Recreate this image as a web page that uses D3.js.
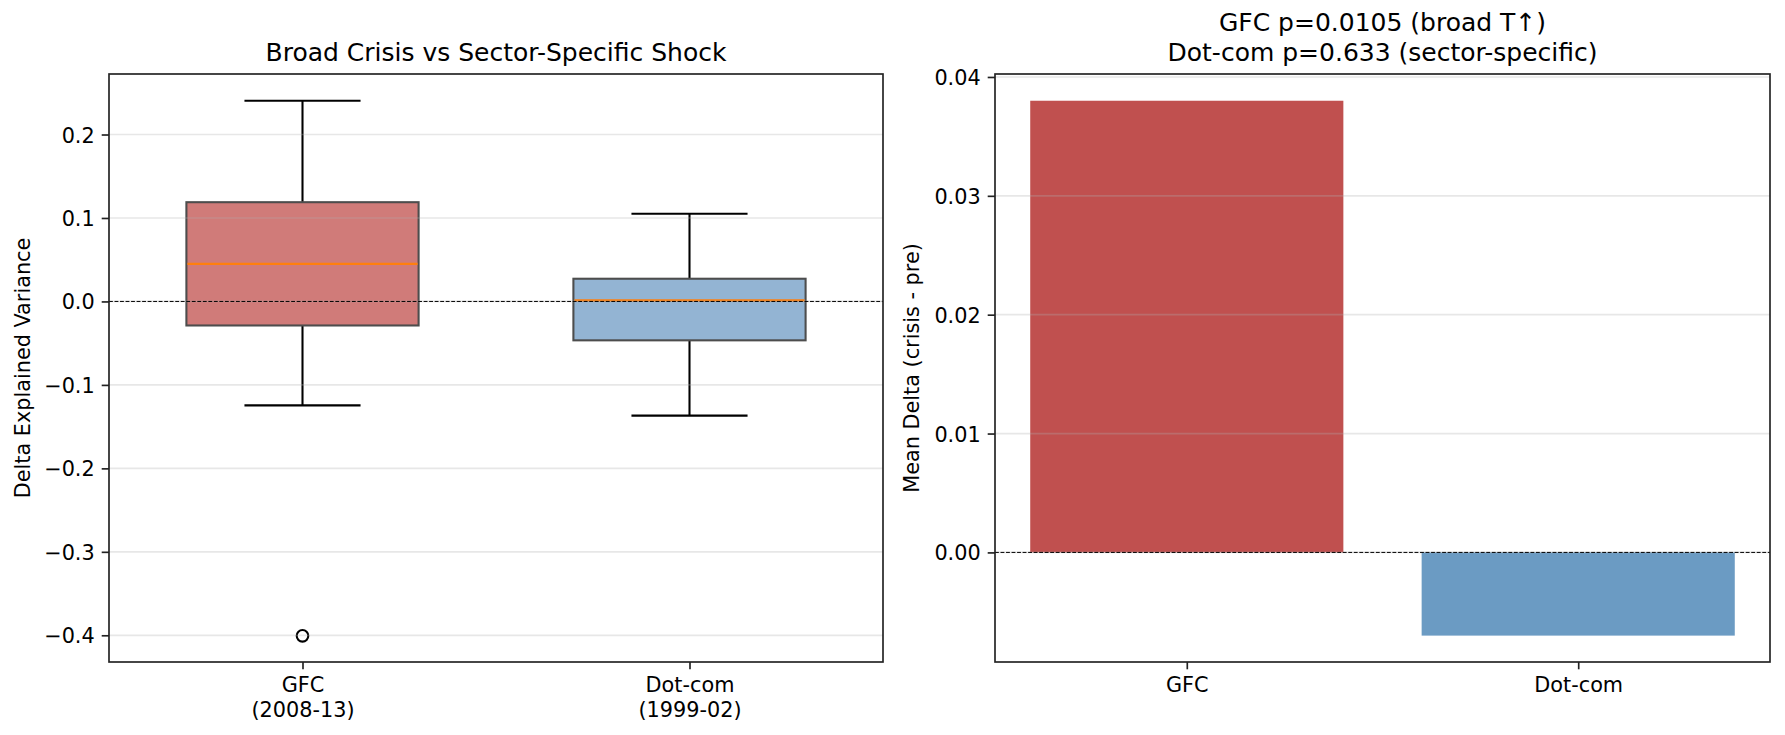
<!DOCTYPE html>
<html>
<head>
    <meta charset="utf-8">
    <script src="https://d3js.org/d3.v7.min.js"></script>
    <style>
        body { margin: 0; background: #fff; }
        svg { display: block; }
        svg text { font-family: 'DejaVu Sans', sans-serif; }
        .tick text { font-size: 20.8px; fill: #000; }
        .ttl { font-size: 25px; fill: #000; text-anchor: middle; }
        .ylab { font-size: 20.8px; fill: #000; text-anchor: middle; }
    </style>
</head>
<body>
<div id="chart"></div>
<script>
    // box plot stats per crisis
    const boxCats = ["GFC\n(2008-13)", "Dot-com\n(1999-02)"];
    const whiskLo = [-0.1245, -0.1368];
    const q1 = [-0.0288, -0.0466];
    const median = [0.045, 0.0013];
    const q3 = [0.1189, 0.0272];
    const whiskHi = [0.2405, 0.105];
    const outliers = [[-0.4006], []];
    const boxFill = ["#d07b79", "#93b4d3"];

    // mean delta bars
    const barCats = ["GFC", "Dot-com"];
    const barVals = [0.0380, -0.0070];
    const barFill = ["#c0504f", "#6b9bc3"];

    const leftTicks = [-0.4, -0.3, -0.2, -0.1, 0.0, 0.1, 0.2];
    const rightTicks = [0.00, 0.01, 0.02, 0.03, 0.04];

    const W = 1785, H = 735;
    const yTop = 74, yBot = 662;
    const L = { x0: 109, x1: 883 }, R = { x0: 995, x1: 1770 };
    const tickLen = 7.3, lw = 1.67;

    const svg = d3.select("#chart").append("svg")
        .attr("width", W).attr("height", H);

    function frame(g, x0, x1) {
        g.append("rect")
            .attr("x", x0).attr("y", yTop)
            .attr("width", x1 - x0).attr("height", yBot - yTop)
            .attr("fill", "none").attr("stroke", "#222").attr("stroke-width", lw);
    }

    function yAxis(g, y, x0, ticks, fmt) {
        const ax = g.append("g").attr("transform", `translate(${x0},0)`)
            .call(d3.axisLeft(y).tickValues(ticks).tickFormat(fmt)
                .tickSize(tickLen).tickPadding(7));
        ax.attr("font-family", null).attr("font-size", null);
        ax.select(".domain").remove();
        ax.selectAll(".tick line").attr("stroke", "#222").attr("stroke-width", lw);
        ax.selectAll(".tick text").attr("dy", "0.36em");
    }

    function xAxis(g, x, cats, positions) {
        const ax = g.append("g").attr("transform", `translate(0,${yBot})`)
            .call(d3.axisBottom(x).tickValues(positions).tickFormat("")
                .tickSize(tickLen));
        ax.attr("font-family", null).attr("font-size", null);
        ax.select(".domain").remove();
        ax.selectAll(".tick line").attr("stroke", "#222").attr("stroke-width", lw);
        ax.selectAll(".tick").each(function (d, i) {
            const lines = cats[i].split("\n");
            const t = d3.select(this).append("text")
                .attr("text-anchor", "middle").attr("fill", "#000")
                .style("font-size", "20.8px");
            lines.forEach((s, k) => {
                t.append("tspan").attr("x", 0).attr("y", 30 + k * 25).text(s);
            });
        });
    }

    function grid(g, y, ticks, x0, x1) {
        g.append("g").selectAll("line").data(ticks).join("line")
            .attr("x1", x0).attr("x2", x1)
            .attr("y1", d => y(d)).attr("y2", d => y(d))
            .attr("stroke", "#b0b0b0").attr("stroke-opacity", 0.3)
            .attr("stroke-width", lw);
    }

    function zeroLine(g, y, x0, x1) {
        g.append("line")
            .attr("x1", x0).attr("x2", x1)
            .attr("y1", y(0)).attr("y2", y(0))
            .attr("stroke", "#000").attr("stroke-width", 1)
            .attr("stroke-dasharray", "3.85,1.67");
    }

    // ---- left: box plot ----
    const gl = svg.append("g");
    const xl = d3.scaleLinear().domain([0.5, 2.5]).range([L.x0, L.x1]);
    const yl = d3.scaleLinear().domain([-0.432, 0.2725]).range([yBot, yTop]);
    const pos = boxCats.map((d, i) => i + 1);
    const bw = 0.6, cw = 0.3;

    pos.forEach((p, i) => {
        const g = gl.append("g");
        // whiskers
        g.append("line").attr("x1", xl(p)).attr("x2", xl(p))
            .attr("y1", yl(q1[i])).attr("y2", yl(whiskLo[i]));
        g.append("line").attr("x1", xl(p)).attr("x2", xl(p))
            .attr("y1", yl(q3[i])).attr("y2", yl(whiskHi[i]));
        [whiskLo[i], whiskHi[i]].forEach(v => {
            g.append("line").attr("x1", xl(p - cw / 2)).attr("x2", xl(p + cw / 2))
                .attr("y1", yl(v)).attr("y2", yl(v));
        });
        g.selectAll("line").attr("stroke", "#000").attr("stroke-width", 2.08);
        // box
        g.append("rect")
            .attr("x", xl(p - bw / 2)).attr("y", yl(q3[i]))
            .attr("width", xl(p + bw / 2) - xl(p - bw / 2))
            .attr("height", yl(q1[i]) - yl(q3[i]))
            .attr("fill", boxFill[i])
            .attr("stroke", "#4d4d4d").attr("stroke-width", 2.08);
        g.append("line")
            .attr("x1", xl(p - bw / 2) + 1).attr("x2", xl(p + bw / 2) - 1)
            .attr("y1", yl(median[i])).attr("y2", yl(median[i]))
            .attr("stroke", "#ff7f0e").attr("stroke-width", 2.08);
        g.selectAll("circle.out").data(outliers[i]).join("circle")
            .attr("class", "out")
            .attr("cx", xl(p)).attr("cy", d => yl(d)).attr("r", 5.8)
            .attr("fill", "none").attr("stroke", "#000").attr("stroke-width", 2.08);
    });
    grid(gl, yl, leftTicks, L.x0, L.x1);
    zeroLine(gl, yl, L.x0, L.x1);
    frame(gl, L.x0, L.x1);
    yAxis(gl, yl, L.x0, leftTicks, d3.format(".1f"));
    xAxis(gl, xl, boxCats, pos);

    gl.append("text").attr("class", "ttl")
        .attr("x", (L.x0 + L.x1) / 2).attr("y", 61)
        .text("Broad Crisis vs Sector-Specific Shock");
    gl.append("text").attr("class", "ylab")
        .attr("transform", `translate(30,${(yTop + yBot) / 2}) rotate(-90)`)
        .text("Delta Explained Variance");

    // ---- right: mean delta bars ----
    const gr = svg.append("g");
    const xr = d3.scaleLinear().domain([-0.49, 1.49]).range([R.x0, R.x1]);
    const yr = d3.scaleLinear().domain([-0.00922, 0.04025]).range([yBot, yTop]);

    gr.append("g").selectAll("rect").data(barVals).join("rect")
        .attr("x", (d, i) => xr(i - 0.4))
        .attr("width", xr(0.4) - xr(-0.4))
        .attr("y", d => yr(Math.max(0, d)))
        .attr("height", d => Math.abs(yr(d) - yr(0)))
        .attr("fill", (d, i) => barFill[i]);
    grid(gr, yr, rightTicks, R.x0, R.x1);
    zeroLine(gr, yr, R.x0, R.x1);
    frame(gr, R.x0, R.x1);
    yAxis(gr, yr, R.x0, rightTicks, d3.format(".2f"));
    xAxis(gr, xr, barCats, barCats.map((d, i) => i));

    gr.append("text").attr("class", "ttl")
        .attr("x", (R.x0 + R.x1) / 2).attr("y", 31)
        .text("GFC p=0.0105 (broad T\u2191)");
    gr.append("text").attr("class", "ttl")
        .attr("x", (R.x0 + R.x1) / 2).attr("y", 61)
        .text("Dot-com p=0.633 (sector-specific)");
    gr.append("text").attr("class", "ylab")
        .attr("transform", `translate(919,${(yTop + yBot) / 2}) rotate(-90)`)
        .text("Mean Delta (crisis - pre)");
</script>
</body>
</html>
